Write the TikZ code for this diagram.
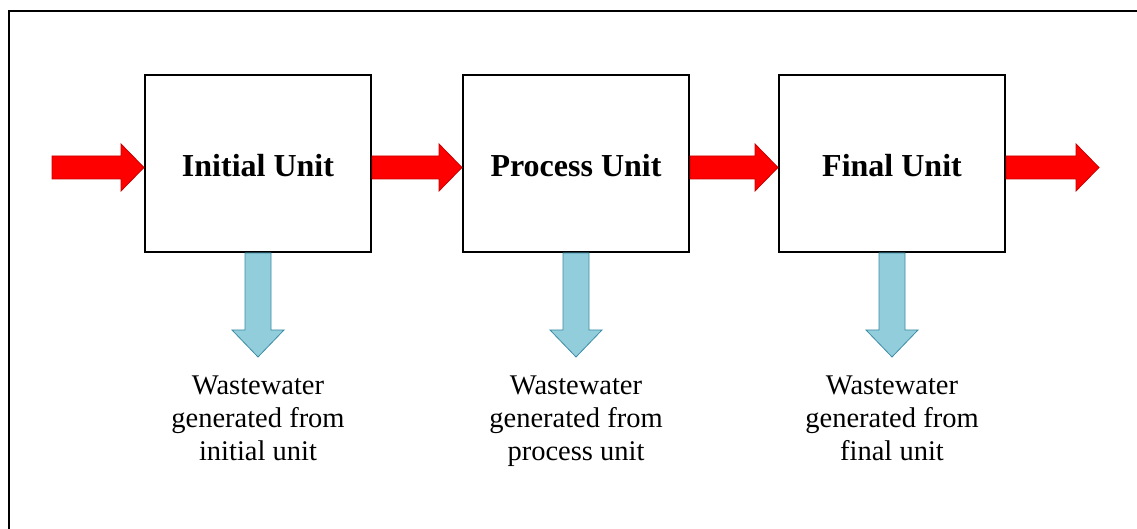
\documentclass[tikz,border=0pt]{standalone}
\usepackage{fontspec}
\setmainfont{Liberation Serif}
\usetikzlibrary{calc}
\definecolor{redfill}{RGB}{255,0,0}
\definecolor{redline}{RGB}{200,0,0}
\definecolor{bluefill}{RGB}{146,205,220}
\definecolor{blueline}{RGB}{60,140,165}
\tikzset{
  unitbox/.style={draw=black, line width=2pt, fill=white, minimum width=226pt, minimum height=177pt, inner sep=0pt,
    text height=27pt, text depth=0pt,
    font=\fontsize{32}{38}\selectfont\bfseries},
  redarrow/.style={fill=redfill, draw=redline, line width=0.8pt, line join=miter},
  bluearrow/.style={fill=bluefill, draw=blueline, line width=0.8pt, line join=miter},
  wastetext/.style={align=center, inner sep=0pt, anchor=north, font=\fontsize{28.5}{33.3}\selectfont},
}
\newcommand\hflow[2]{%
  \path[redarrow] let \p1=(#1), \p2=(#2) in
    (\x1,\y2+11.5pt) -- (\x2-23pt,\y2+11.5pt) -- (\x2-23pt,\y2+23.5pt) -- (\x2,\y2)
    -- (\x2-23pt,\y2-23.5pt) -- (\x2-23pt,\y2-11.5pt) -- (\x1,\y2-11.5pt) -- cycle;}
\newcommand\vflow[2]{%
  \path[bluearrow] let \p1=(#1), \p2=(#2) in
    (\x1-13pt,\y1) -- (\x1+13pt,\y1) -- (\x1+13pt,\y2+27pt) -- (\x1+26pt,\y2+27pt) -- (\x1,\y2)
    -- (\x1-26pt,\y2+27pt) -- (\x1-13pt,\y2+27pt) -- cycle;}
\begin{document}
\begin{tikzpicture}[x=1pt,y=1pt]
\useasboundingbox (0,0) rectangle (1137,529);
\begin{scope}
\clip (0,0) rectangle (1137,529);
\draw[line width=2.5pt] (9,-20) -- (9,518) -- (1160,518);
\end{scope}
% boxes
\node[unitbox] (b1) at (258,365.5) {Initial Unit};
\node[unitbox] (b2) at (576,365.5) {Process Unit};
\node[unitbox] (b3) at (892,365.5) {Final Unit};
% flow endpoints
\coordinate (in) at (52,361.5);
\coordinate (out) at (1099,361.5);
\coordinate (b1in) at ($(b1.west)+(0,-4)$);
\coordinate (b2in) at ($(b2.west)+(0,-4)$);
\coordinate (b3in) at ($(b3.west)+(0,-4)$);
\coordinate (b1out) at ($(b1.east)+(0,-4)$);
\coordinate (b2out) at ($(b2.east)+(0,-4)$);
\coordinate (b3out) at ($(b3.east)+(0,-4)$);
\hflow{in}{b1in}
\hflow{b1out}{b2in}
\hflow{b2out}{b3in}
\hflow{b3out}{out}
% wastewater
\coordinate (w1) at (258,172);
\coordinate (w2) at (576,172);
\coordinate (w3) at (892,172);
\vflow{b1.south}{w1}
\vflow{b2.south}{w2}
\vflow{b3.south}{w3}
\node[wastetext] (t1) at (258,153.5) {Wastewater\\generated from\\initial unit};
\node[wastetext] (t2) at (576,153.5) {Wastewater\\generated from\\process unit};
\node[wastetext] (t3) at (892,153.5) {Wastewater\\generated from\\final unit};
\end{tikzpicture}
\end{document}
